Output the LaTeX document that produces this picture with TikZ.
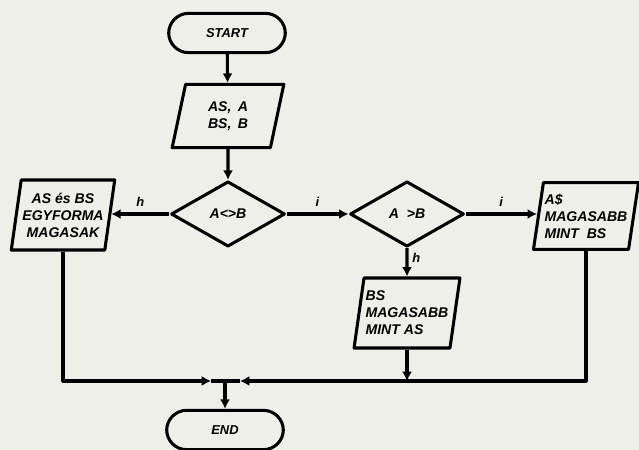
\documentclass[tikz,border=0pt]{standalone}
\usepackage{fontspec}
\setmainfont{Liberation Sans}
\usepackage{xcolor}
\usetikzlibrary{shapes.geometric, arrows.meta, positioning, calc}
\definecolor{paper}{RGB}{238,239,233}
\tikzset{
  terminal/.style={rectangle, draw, rounded corners=0.6cm, minimum width=3.5cm, minimum height=1.18cm, inner sep=0pt, font=\fontsize{11}{13}\selectfont\bfseries\itshape},
  iobox/.style={trapezium, trapezium left angle=78, trapezium right angle=102, trapezium stretches=true, draw, inner sep=1pt, font=\fontsize{12}{14.5}\selectfont\bfseries\itshape},
  decision/.style={diamond, draw, minimum width=3.42cm, minimum height=1.96cm, inner sep=0pt, font=\fontsize{12}{14}\selectfont\bfseries\itshape},
  arrow/.style={-{Latex[length=2.8mm, width=3mm]}},
  lbl/.style={font=\fontsize{11}{13}\selectfont\bfseries\itshape},
}

\begin{document}
\begin{tikzpicture}[x=0.03cm, y=-0.03cm, line width=2.6pt, line join=round]
  \fill[paper] (0,0) rectangle (639,450);
  \useasboundingbox (0,0) rectangle (639,450);
  \node[terminal] (start) at (227,33) {START};
  \node[iobox, minimum width=3.35cm, minimum height=1.9cm, align=center] (input) at (228,116) {AS, \,A\\BS, \,B};
  \node[decision] (dec1) at (228,214) {A<>B};
  \node[decision] (dec2) at (407,214) {A \ >B};
  \node[iobox, minimum width=3.1cm, minimum height=2.1cm, align=center] (same) at (63,215) {AS és BS\\EGYFORMA\\MAGASAK};
  \node[iobox, minimum width=3.15cm, minimum height=2.0cm, align=left] (bgt) at (586,216) {A\$\\MAGASABB\\MINT \ BS};
  \node[iobox, minimum width=3.2cm, minimum height=2.1cm, align=left] (blt) at (407,313) {BS\\MAGASABB\\MINT AS};
  \node[terminal] (end) at (225,430) {END};
  \coordinate (merge) at (225,381);
  \coordinate (mergeL) at (211,381);
  \coordinate (mergeR) at (240,381);
  \draw[arrow] (start) -- (input);
  \draw[arrow] (input) -- (dec1);
  \draw[arrow] (dec1.west) -- node[lbl, above=2pt] {h} (dec1.west -| same.east);
  \draw[arrow] (dec1.east) -- node[lbl, above=2pt] {i} (dec2.west);
  \draw[arrow] (dec2.east) -- node[lbl, above=2pt] {i} (dec2.east -| bgt.west);
  \draw[arrow] (dec2.south) -- node[lbl, right, pos=0.35] {h} (blt.north);
  \draw[arrow] (same.south) |- (mergeL);
  \draw (mergeL) -- (merge);
  \draw[arrow] (bgt.south) |- (mergeR);
  \draw (mergeR) -- (merge);
  \draw[arrow] (blt.south) -- (blt.south |- merge);
  \draw[arrow] (merge) -- (end);
\end{tikzpicture}
\end{document}
